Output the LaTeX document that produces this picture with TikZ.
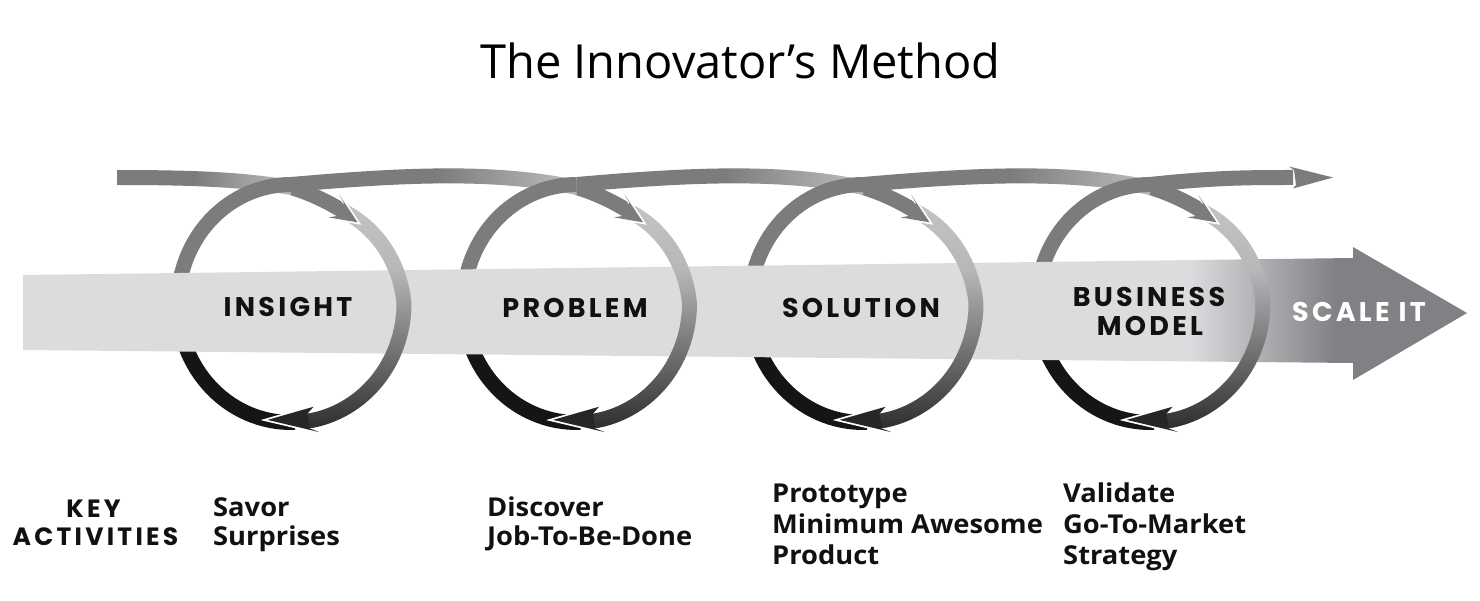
\documentclass[tikz,border=0pt]{standalone}
\usepackage{fontspec}
\setmainfont{Open Sans}
\newfontfamily\titlefont{Open Sans}
\newfontfamily\labfont{Poppins}[LetterSpace=12]
\newfontfamily\keyfont{Poppins}[LetterSpace=13]
\newfontfamily\actfont{Open Sans}
\definecolor{shaftL}{HTML}{DBDCDE}
\definecolor{shaftD}{HTML}{808184}
\definecolor{gA}{HTML}{7C7C7C}
\definecolor{gLight}{HTML}{B6B6B6}
\definecolor{bTop}{HTML}{C7C8CA}
\definecolor{bMid}{HTML}{B6B7B9}
\definecolor{bLow}{HTML}{6B6B6B}
\definecolor{bBot}{HTML}{232323}
\definecolor{cBlk}{HTML}{151515}
\definecolor{headB}{HTML}{262626}
\definecolor{ink}{HTML}{111111}
\newcommand{\actwide}[1]{\scalebox{1.05}[1]{#1}}
\begin{document}
\begin{tikzpicture}[x=1pt,y=-1pt,
  declare function={
    px(\xc,\ta,\of)=\xc+(113+\of)*cos(\ta);
    py(\ta,\of)=303.5-(119+\of)*sin(\ta);
    oa(\ta)=-11.5+8.5*((\ta-60)/30)^2;
    ob(\ta)=-11.5*min(max(\ta,0)/60,1);
  },
  lab/.style={font=\labfont\bfseries\fontsize{27}{30}\selectfont, text=ink, anchor=base, inner sep=0pt},
  keylab/.style={font=\keyfont\bfseries\fontsize{25}{28}\selectfont, text=ink, anchor=base, inner sep=0pt},
  act/.style={font=\actfont\bfseries\fontsize{26}{30}\selectfont, text=ink, anchor=base west, inner sep=0pt},
  strand/.style={line width=15pt, line cap=butt},
]
\useasboundingbox (0,0) rectangle (1480,601);
\fill[white] (0,0) rectangle (1480,601);

% incoming strands after the crossing (under everything)
\foreach \cx in {291,576.5,863,1150} {
  \draw[strand, gA] plot[domain=90:60, samples=16, variable=\t] ({px(\cx,\t,oa(\t))},{py(\t,oa(\t))});
}

% first incoming band
\begin{scope}
  \clip (117,170) .. controls (200,170) and (245,172.5) .. (291,180) -- (291,195) .. controls (245,187.5) and (200,185) .. (117,185) -- cycle;
  \fill[gA] (110,150) rectangle (195,210);
  \shade[left color=gA, right color=gLight] (195,150) rectangle (280,210);
  \fill[gLight] (280,150) rectangle (300,210);
\end{scope}

% bands between loops
\foreach \ca/\cb in {291/576.5, 576.5/863, 863/1150} {
  \begin{scope}
    \clip (\ca,177) .. controls ({\ca+120},166.5) and ({\cb-80},163.5) .. (\cb,180) -- (\cb,195) .. controls ({\cb-80},178.5) and ({\ca+120},181.5) .. (\ca,192) -- cycle;
    \fill[gA] ({\ca-5},150) rectangle ({\cb-140},210);
    \shade[left color=gA, right color=gLight] ({\cb-140},150) rectangle ({\cb-15},210);
    \fill[gLight] ({\cb-15},150) rectangle ({\cb+5},210);
  \end{scope}
}

% left arcs (C)
\foreach \cx in {291,576.5,863,1150} {
  \begin{scope}
    \clip plot[domain=-88:-270, samples=60, variable=\t] ({px(\cx,\t,7.5)},{py(\t,7.5)})
      -- plot[domain=-270:-88, samples=60, variable=\t] ({px(\cx,\t,-7.5)},{py(\t,-7.5)}) -- cycle;
    \fill[gA] ({\cx-130},160) rectangle ({\cx+130},272);
    \shade[top color=gA, bottom color=cBlk] ({\cx-130},272) rectangle ({\cx+130},356);
    \fill[cBlk] ({\cx-130},356) rectangle ({\cx+130},440);
  \end{scope}
}

% main shaft arrow
\begin{scope}
  \clip (23,275) -- (1353,258) -- (1353,247) -- (1467,313) -- (1353,380) -- (1353,363) -- (23,350) -- cycle;
  \fill[shaftL] (0,230) rectangle (1190,400);
  \shade[left color=shaftL, right color=shaftD] (1190,230) rectangle (1335,400);
  \fill[shaftD] (1335,230) rectangle (1480,400);
\end{scope}

% right arcs (B)
\foreach \cx in {291,576.5,863,1150} {
  \begin{scope}
    \clip plot[domain=60:-84, samples=60, variable=\t] ({px(\cx,\t,ob(\t)+7.5)},{py(\t,ob(\t)+7.5)})
      -- plot[domain=-84:60, samples=60, variable=\t] ({px(\cx,\t,ob(\t)-7.5)},{py(\t,ob(\t)-7.5)}) -- cycle;
    \shade[top color=bTop, bottom color=bMid] ({\cx-10},180) rectangle ({\cx+140},270);
    \shade[top color=bMid, bottom color=bLow] ({\cx-10},270) rectangle ({\cx+140},360);
    \shade[top color=bLow, bottom color=bBot] ({\cx-10},360) rectangle ({\cx+140},440);
  \end{scope}
}

% arrow heads
\foreach \cx in {291,576.5,863,1150} {
  % bottom head (end of right arc)
  \coordinate (bt) at ({px(\cx,-102,0)},{py(-102,0)});
  \coordinate (bb1) at ({px(\cx,-77,13)},{py(-77,13)});
  \coordinate (bj1) at ({px(\cx,-81,7.5)},{py(-81,7.5)});
  \coordinate (bj2) at ({px(\cx,-81,-7.5)},{py(-81,-7.5)});
  \coordinate (bb2) at ({px(\cx,-77,-13)},{py(-77,-13)});
  \draw[white, line width=3.5pt, line join=miter] (bb1) -- (bt) -- (bb2);
  \fill[headB] (bt) -- (bb1) -- (bj1) -- (bj2) -- (bb2) -- cycle;
  % top head (end of incoming strand)
  \coordinate (tt) at ({px(\cx,49,-11.5)},{py(49,-11.5)});
  \coordinate (tb1) at ({px(\cx,65,1)},{py(65,1)});
  \coordinate (tj1) at ({px(\cx,61,-4)},{py(61,-4)});
  \coordinate (tj2) at ({px(\cx,61,-19)},{py(61,-19)});
  \coordinate (tb2) at ({px(\cx,65,-24)},{py(65,-24)});
  \draw[white, line width=3.5pt, line join=miter] (tb1) -- (tt) -- (tb2);
  \fill[gA] (tt) -- (tb1) -- (tj1) -- (tj2) -- (tb2) -- cycle;
}

% final outgoing arrow
\coordinate (fs) at (1150,184.5);
\coordinate (fe) at (1293,177.5);
\draw[strand, gA] (fs) .. controls (1215,177.5) and (1250,177.5) .. (fe);
\fill[gA] (1289,166.5) -- (1333,177.5) -- (1293,188.5) -- (1296,185) -- (1294,170) -- cycle;

% texts
\node[font=\titlefont\fontsize{47}{52}\selectfont, text=black, anchor=base, inner sep=0pt] (title) at (740.5,79) {The Innovator’s Method};

\node[lab] (insight) at (288,317) {INSIGHT};
\node[lab] (problem) at (575,318) {PROBLEM};
\node[lab] (solution) at (861,318) {SOLUTION};
\node[lab] (business) at (1149,306.5) {BUSINESS};
\node[lab] (model) at (1150,336) {MODEL};
\node[lab, text=white] (scale) at (1359,321.5) {SCALE IT};

\node[keylab] (key) at (93.5,517) {KEY};
\node[keylab] (activities) at (95.5,545) {ACTIVITIES};

\node[act] (savor) at (213,516) {\actwide{Savor}};
\node[act] (surprises) at (213,545.5) {\actwide{Surprises}};
\node[act] (discover) at (487,516) {\actwide{Discover}};
\node[act] (jtbd) at (487,545.5) {\actwide{Job-To-Be-Done}};
\node[act] (proto) at (772,502.5) {\actwide{Prototype}};
\node[act] (minimum) at (772,533.5) {\actwide{Minimum Awesome}};
\node[act] (product) at (772,564.5) {\actwide{Product}};
\node[act] (validate) at (1063,502.5) {\actwide{Validate}};
\node[act] (gtm) at (1063,533.5) {\actwide{Go-To-Market}};
\node[act] (strategy) at (1063,564.5) {\actwide{Strategy}};
\end{tikzpicture}
\end{document}
